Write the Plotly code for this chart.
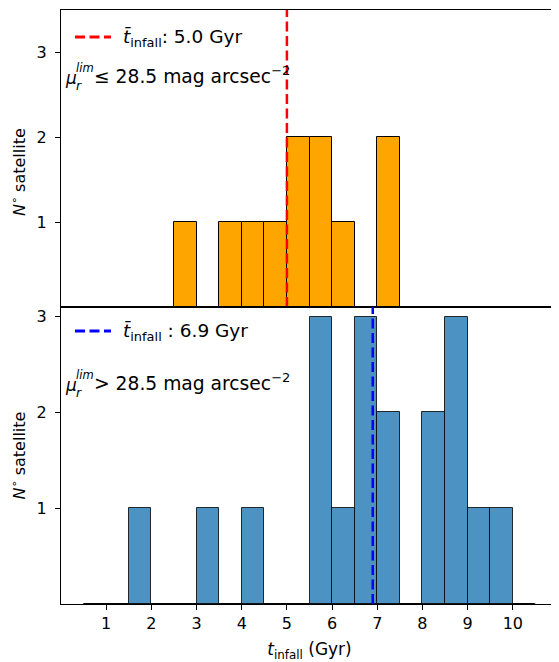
import plotly.graph_objects as go
from plotly.subplots import make_subplots

# Bin left edges (Gyr), bin width 0.5
bin_left = [0.5, 1.0, 1.5, 2.0, 2.5, 3.0, 3.5, 4.0, 4.5, 5.0,
            5.5, 6.0, 6.5, 7.0, 7.5, 8.0, 8.5, 9.0, 9.5, 10.0]
counts_bright = [0, 0, 0, 0, 1, 0, 1, 1, 1, 2,
                 2, 1, 0, 2, 0, 0, 0, 0, 0, 0]
counts_faint = [0, 0, 1, 0, 0, 1, 0, 1, 0, 0,
                3, 1, 3, 2, 0, 2, 3, 1, 1, 0]
mean_bright = 5.0
mean_faint = 6.9
bin_width = 0.5

x_ticks = [1, 2, 3, 4, 5, 6, 7, 8, 9, 10]
y_ticks = [1, 2, 3]
y_title = "<i>N</i><sup>∘</sup> satellite"

FONT = "DejaVu Sans"
DASH = "10px,4.5px"

# page offset of the html body (8px) is compensated in width/height/margins
W, H = 551, 654
ML, MR, MT, MB = 53, 1, 2, 58
PL, PT = 8 + ML, 8 + MT                    # plot-area origin on the page
PW, PH = W - ML - MR, H - MT - MB


def px(xp):
    return (xp - PL) / PW


def py(yp):
    return (PT + PH - yp) / PH


def label(text, xp, yp, size, **kw):
    fig.add_annotation(text=text, xref="paper", yref="paper", x=px(xp), y=py(yp),
                       xanchor=kw.pop("xanchor", "left"), yanchor="middle", showarrow=False,
                       borderpad=0, borderwidth=0,
                       font=dict(family=FONT, size=size, color="black"), **kw)


fig = make_subplots(rows=2, cols=1, shared_xaxes=True, vertical_spacing=0)

centers = [b + bin_width / 2 for b in bin_left]

fig.add_trace(go.Bar(x=centers, y=counts_bright, width=bin_width,
                     marker=dict(color="#FFA500", line=dict(color="black", width=1)),
                     showlegend=False), row=1, col=1)
fig.add_trace(go.Bar(x=centers, y=counts_faint, width=bin_width,
                     marker=dict(color="rgb(76,146,195)", line=dict(color="rgba(0,0,0,0.8)", width=1)),
                     showlegend=False), row=2, col=1)

# baseline of empty bins
for r in (1, 2):
    fig.add_trace(go.Scatter(x=[bin_left[0], bin_left[-1] + bin_width], y=[0, 0], mode="lines",
                             line=dict(color="black", width=1), showlegend=False, hoverinfo="skip"),
                  row=r, col=1)

fig.add_trace(go.Scatter(x=[mean_bright, mean_bright], y=[0, 3.5], mode="lines",
                         line=dict(color="red", width=2.5, dash=DASH), showlegend=False),
              row=1, col=1)
fig.add_trace(go.Scatter(x=[mean_faint, mean_faint], y=[0, 3.1], mode="lines",
                         line=dict(color="blue", width=2.5, dash=DASH), showlegend=False),
              row=2, col=1)

axis_common = dict(showline=True, linecolor="black", linewidth=1, mirror=True,
                   showgrid=False, zeroline=False, ticks="outside", ticklen=5,
                   tickcolor="black", automargin=False,
                   tickfont=dict(family=FONT, size=16, color="black"))

fig.update_xaxes(range=[0, 11], tickvals=x_ticks, **axis_common)
fig.update_xaxes(showticklabels=False, ticks="", row=1, col=1)
fig.update_xaxes(title=dict(text="<i>t</i><sub>infall</sub> (Gyr)",
                            font=dict(family=FONT, size=17, color="black")),
                 row=2, col=1)
fig.update_yaxes(tickvals=y_ticks, ticklabelstandoff=5, **axis_common)
fig.update_yaxes(range=[0, 3.5], row=1, col=1)
fig.update_yaxes(range=[0, 3.1], row=2, col=1)
fig.update_yaxes(title=dict(text=y_title, font=dict(family=FONT, size=16, color="black")),
                 row=2, col=1)

# top-panel y label (sits a little below the panel centre in the reference)
label(y_title, 18, 172, 16, textangle=-90, xanchor="center")

# hand-made legends (line sample + label)
legend_items = [("red", 37, "<i>t̄</i><sub>infall</sub>: %.1f Gyr" % mean_bright),
                ("blue", 331, "<i>t̄</i><sub>infall</sub> : %.1f Gyr" % mean_faint)]
for color, yl, text in legend_items:
    fig.add_shape(type="line", xref="paper", yref="paper",
                  x0=px(75), x1=px(111), y0=py(yl), y1=py(yl),
                  line=dict(color=color, width=2.8, dash=DASH))
    label(text, 123, yl + 1, 18.5)

# surface-brightness labels (stacked sub/superscript)
mu_items = [(78, "≤ 28.5 mag arcsec<sup>−2</sup>"),
            (385, "> 28.5 mag arcsec<sup>−2</sup>")]
for ym, rest in mu_items:
    label("<i>μ</i>", 65, ym, 17)
    label("<i>lim</i>", 76, ym - 10, 11.5)
    label("<i>r</i>", 76, ym + 7, 12.5)
    label(rest, 94, ym - 3, 18.7)

fig.update_layout(
    width=W, height=H,
    margin=dict(l=ML, r=MR, t=MT, b=MB),
    plot_bgcolor="white", paper_bgcolor="white",
    bargap=0, showlegend=False,
)

fig.write_html("out.html")
